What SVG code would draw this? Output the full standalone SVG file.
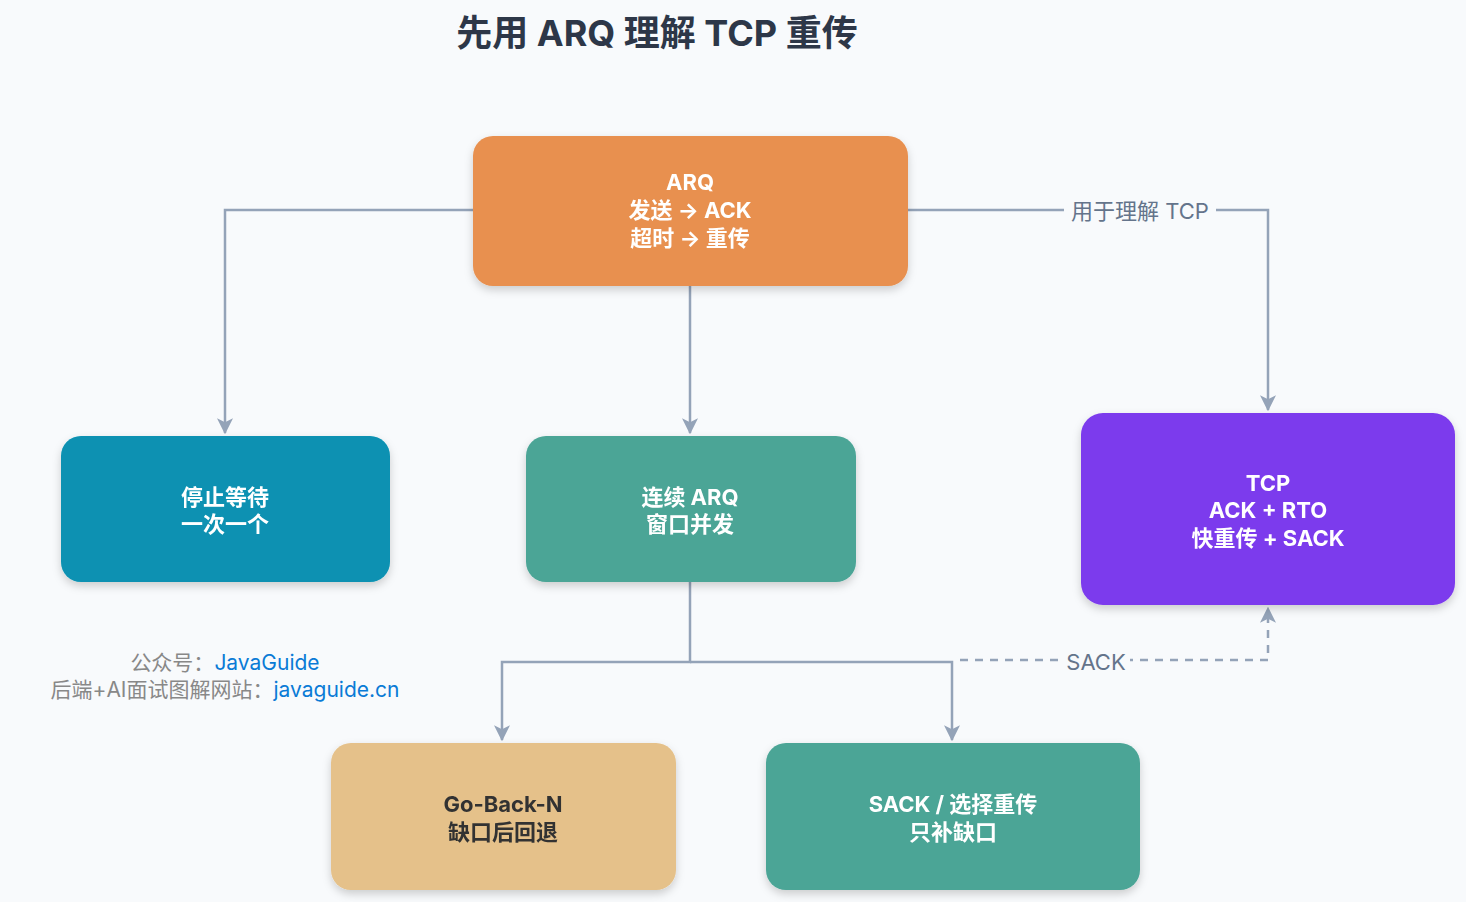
<svg xmlns="http://www.w3.org/2000/svg" width="1466" height="902" viewBox="0 0 1466 902">
<defs>
<filter id="sh" x="-10%" y="-10%" width="120%" height="130%"><feDropShadow dx="0" dy="4" stdDeviation="4" flood-color="#000" flood-opacity="0.18"/></filter>
<marker id="ah" viewBox="0 0 12 12" refX="11" refY="6" markerWidth="16" markerHeight="16" markerUnits="userSpaceOnUse" orient="auto"><path d="M0,0 L12,6 L0,12 L3,6 z" fill="#94A3B8"/></marker>
</defs>
<style>
.n{filter:url(#sh)}
.t{font-family:"Inter","Noto Sans CJK SC",sans-serif;font-size:22px;font-weight:700;fill:#fff;text-anchor:middle}
.d{fill:#333}
.c{fill:none;stroke:#94A3B8;stroke-width:2.5}
.l{font-family:"Inter","Noto Sans CJK SC",sans-serif;font-size:22px;fill:#64748B;text-anchor:middle}
.w{font-family:"Inter","Noto Sans CJK SC",sans-serif;font-size:21px;text-anchor:middle}
</style>
<rect width="1466" height="902" fill="#F8FAFC"/>
<text x="657" y="46" font-family="Inter,'Noto Sans CJK SC',sans-serif" font-size="36" font-weight="700" fill="#2D3748" text-anchor="middle">先用 ARQ 理解 TCP 重传</text>
<g id="connectors">
<path class="c" d="M473,210 H225 V433" marker-end="url(#ah)"/>
<path class="c" d="M690,286 V433" marker-end="url(#ah)"/>
<path class="c" d="M908,210 H1268 V410" marker-end="url(#ah)"/>
<path class="c" d="M690,582 V662 H502 V740" marker-end="url(#ah)"/>
<path class="c" d="M690,662 H952 V740" marker-end="url(#ah)"/>
<path class="c" d="M960,660 H1268 V608" stroke-dasharray="8,7" marker-end="url(#ah)"/>
<rect x="1064" y="198" width="152" height="28" fill="#F8FAFC"/>
<text class="l" x="1140" y="219">用于理解 TCP</text>
<rect x="1060" y="648" width="70" height="28" fill="#F8FAFC"/>
<text class="l" x="1096" y="670">SACK</text>
</g>
<g id="arq" class="n"><rect x="473" y="136" width="435" height="150" rx="20" fill="#E8904F"/>
<text class="t" x="690" y="190">ARQ</text><text class="t" x="690" y="218">发送 → ACK</text><text class="t" x="690" y="246">超时 → 重传</text></g>
<g id="stopwait" class="n"><rect x="61" y="436" width="329" height="146" rx="20" fill="#0891B2"/>
<text class="t" x="225" y="505">停止等待</text><text class="t" x="225" y="532">一次一个</text></g>
<g id="continuous" class="n"><rect x="526" y="436" width="330" height="146" rx="20" fill="#4BA596"/>
<text class="t" x="690" y="505">连续 ARQ</text><text class="t" x="690" y="532">窗口并发</text></g>
<g id="tcp" class="n"><rect x="1081" y="413" width="374" height="192" rx="22" fill="#7C3AED"/>
<text class="t" x="1268" y="491">TCP</text><text class="t" x="1268" y="518">ACK + RTO</text><text class="t" x="1268" y="546">快重传 + SACK</text></g>
<g id="gbn" class="n"><rect x="331" y="743" width="345" height="147" rx="20" fill="#E5C18A"/>
<text class="t d" x="503" y="812">Go-Back-N</text><text class="t d" x="503" y="840">缺口后回退</text></g>
<g id="sack" class="n"><rect x="766" y="743" width="374" height="147" rx="20" fill="#4BA596"/>
<text class="t" x="953" y="812">SACK / 选择重传</text><text class="t" x="953" y="840">只补缺口</text></g>
<g id="watermark">
<text class="w" x="225" y="670"><tspan fill="#888">公众号：</tspan><tspan fill="#0A7BD6">JavaGuide</tspan></text>
<text class="w" x="225" y="697"><tspan fill="#888">后端+AI面试图解网站：</tspan><tspan fill="#0A7BD6">javaguide.cn</tspan></text>
</g>
</svg>
